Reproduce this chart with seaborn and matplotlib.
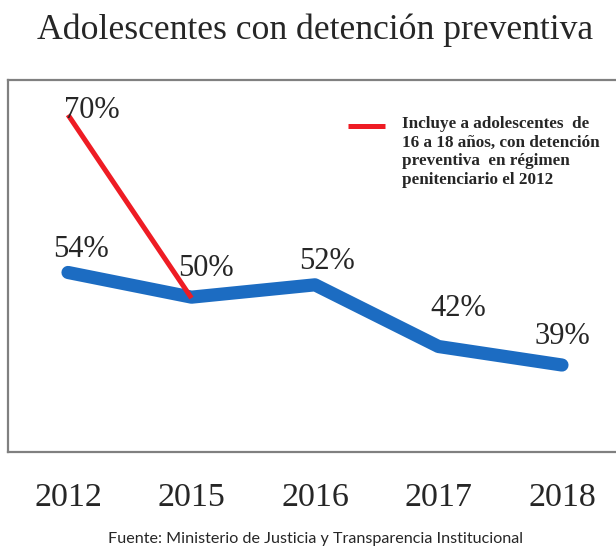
import matplotlib
matplotlib.use("Agg")
import matplotlib.pyplot as plt
import seaborn as sns
import pandas as pd

# data
YEARS = ["2012", "2015", "2016", "2017", "2018"]
VALUES = [54, 50, 52, 42, 39]
RED_YEARS = ["2012", "2015"]
RED_VALUES = [70, 50]
LABELS = ["54%", "50%", "52%", "42%", "39%"]
RED_LABEL = "70%"
NOTE = "Incluye a adolescentes  de\n16 a 18 años, con detención\npreventiva  en régimen\npenitenciario el 2012"
TITLE = "Adolescentes con detención preventiva"
SOURCE = "Fuente: Ministerio de Justicia y Transparencia Institucional"

BLUE = "#1c6cc2"
RED = "#ee1c24"
SERIF = "Liberation Serif"

sns.set_style("white")
plt.rcParams["font.family"] = [SERIF, "DejaVu Serif"]

df = pd.DataFrame({"year": YEARS, "value": VALUES})
red = pd.DataFrame({"year": RED_YEARS, "value": RED_VALUES})

W, H = 616, 546
fig = plt.figure(figsize=(W / 100, H / 100), dpi=100)
ax = fig.add_axes([8 / W, (H - 452) / H, (620 - 8) / W, (452 - 80) / H])

sns.lineplot(data=df, x="year", y="value", ax=ax, color=BLUE, linewidth=9.5,
             solid_capstyle="round", solid_joinstyle="round", sort=False)
ax.set_xlim(-0.486, 4.47)
ax.set_ylim(24.9, 85.2)

# red series sits on its own scale in the original
ax2 = ax.twinx()
sns.lineplot(data=red, x="year", y="value", ax=ax2, color=RED, linewidth=3.6,
             solid_capstyle="butt", sort=False, label=NOTE)
ax2.set_ylim(33.2, 73.8)
ax2.set_yticks([])
ax2.set_ylabel("")
for s in ax2.spines.values():
    s.set_visible(False)

# value labels
offsets = [(13, 23), (14, 29), (12, 23), (20, 38), (0, 29)]
for i, (lab, off) in enumerate(zip(LABELS, offsets)):
    ax.annotate(lab, (i, VALUES[i]), xytext=off, textcoords="offset pixels",
                ha="center", va="center", fontsize=22)
ax2.annotate(RED_LABEL, (0, RED_VALUES[0]), xytext=(24, 4), textcoords="offset pixels",
             ha="center", va="center", fontsize=22)

leg = ax2.legend(loc="upper left", bbox_to_anchor=((348 - 8) / 612, 1 - (116 - 80) / 372),
                 frameon=False, fontsize=12.3, handlelength=2.15, handletextpad=1.0,
                 handleheight=2.2, borderaxespad=0, borderpad=0)
# put the red key next to the first line of the note
for col in leg._legend_handle_box.get_children():
    for row in col.get_children():
        row.align = "top"
for t in leg.get_texts():
    t.set_fontweight("bold")
    t.set_linespacing(1.22)

ax.set_xlabel("")
ax.set_ylabel("")
ax.set_yticks([])
ax.tick_params(axis="x", length=0, pad=22, labelsize=24.5)
for s in ax.spines.values():
    s.set_color("#808080")
    s.set_linewidth(1.6)

fig.text(315.5 / W, 1 - 39 / H, TITLE, ha="center", va="baseline", fontsize=25.7)
fig.text(315 / W, 1 - 543 / H, SOURCE, ha="center", va="baseline", fontsize=11.6,
         family=["Lato", "DejaVu Sans"])

fig.savefig("out.png", dpi=100)
